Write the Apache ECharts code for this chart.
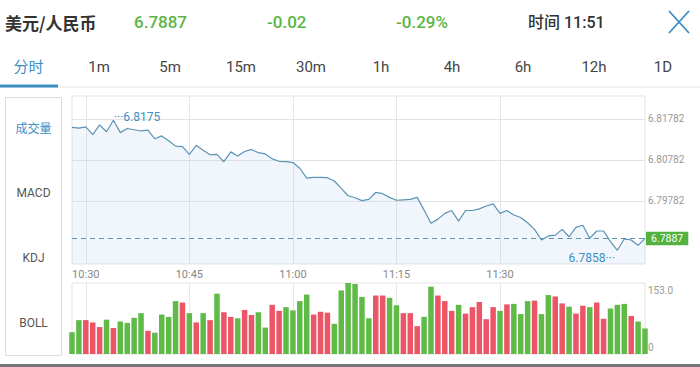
<!DOCTYPE html>
<html><head><meta charset="utf-8">
<script src="https://cdn.jsdelivr.net/npm/echarts@6/dist/echarts.min.js"></script>
<style>html,body{margin:0;padding:0;background:#fff;}#c{width:700px;height:367px;}</style>
</head><body><div id="c"></div><script>
// ---- data ----
const times = ['10:28','10:29','10:30','10:31','10:32','10:33','10:34','10:35','10:36','10:37','10:38','10:39',
  '10:40','10:41','10:42','10:43','10:44','10:45','10:46','10:47','10:48','10:49','10:50','10:51','10:52','10:53',
  '10:54','10:55','10:56','10:57','10:58','10:59','11:00','11:01','11:02','11:03','11:04','11:05','11:06','11:07',
  '11:08','11:09','11:10','11:11','11:12','11:13','11:14','11:15','11:16','11:17','11:18','11:19','11:20','11:21',
  '11:22','11:23','11:24','11:25','11:26','11:27','11:28','11:29','11:30','11:31','11:32','11:33','11:34','11:35',
  '11:36','11:37','11:38','11:39','11:40','11:41','11:42','11:43','11:44','11:45','11:46','11:47','11:48','11:49',
  '11:50','11:51'];
const timeTicks = ['10:30','10:45','11:00','11:15','11:30'];
const prices = [6.8158,6.8156,6.8159,6.8140,6.8164,6.8147,6.8175,6.8145,6.8155,6.8152,
  6.8149,6.8151,6.8130,6.8137,6.8125,6.8112,6.8111,6.8092,6.8114,6.8102,
  6.8091,6.8092,6.8074,6.8098,6.8088,6.8099,6.8104,6.8096,6.8093,6.8081,
  6.8075,6.8074,6.8072,6.8058,6.8034,6.8036,6.8036,6.8035,6.8027,6.8009,
  6.7991,6.7986,6.7979,6.7982,6.7999,6.7996,6.7987,6.7980,6.7981,6.7982,
  6.7987,6.7956,6.7924,6.7934,6.7948,6.7955,6.7929,6.7955,6.7955,6.7959,
  6.7966,6.7971,6.7948,6.7955,6.7944,6.7938,6.7925,6.7909,6.7883,6.7893,
  6.7895,6.7909,6.7891,6.7914,6.7919,6.7887,6.7905,6.7905,6.7879,6.7858,
  6.7886,6.7883,6.7870,6.7887];
const volumes = [47,73,73,68,58,74,56,70,67,78,
  88,50,46,85,80,114,111,88,68,88,
  73,130,90,80,77,95,84,90,57,106,
  93,101,94,114,128,85,91,89,65,137,
  153,151,123,77,126,126,121,105,88,88,
  60,80,145,126,114,93,106,87,101,112,
  75,101,93,107,108,86,114,115,86,127,
  124,109,102,87,104,101,111,76,98,106,
  108,82,70,55];
const volUp = [0,0,1,1,1,0,1,0,0,0,
  0,1,0,0,0,0,1,0,1,0,
  1,0,1,1,0,1,1,0,0,1,
  1,0,0,0,0,1,1,1,0,0,
  0,0,0,0,1,1,0,0,1,1,
  1,0,0,1,1,1,0,1,1,1,
  1,1,0,1,0,0,0,1,0,0,
  1,1,0,1,1,0,1,1,0,0,
  0,1,0,0];
const priceTicks = [6.79782, 6.80782, 6.81782];
const lastPrice = 6.7887;
const priceRange = [6.78245, 6.82343];
const volMax = 153;
const pairName = '美元/人民币';
const headerValues = ['6.7887', '-0.02', '-0.29%'];
const timeText = '时间 11:51';
const tabs = ['分时','1m','5m','15m','30m','1h','4h','6h','12h','1D'];
const sideLabels = ['成交量','MACD','KDJ','BOLL'];

// ---- style ----
const BLUE = '#3d8dc4', LINE = '#5b93b5', GREEN = '#5cb545', RED = '#eb5566', VGREEN = '#5fba47';
const FONT = 'Roboto, "Noto Sans CJK SC", sans-serif';
const isMajor = (i, v) => timeTicks.indexOf(v) >= 0;

const chart = echarts.init(document.getElementById('c'), null, {renderer: 'svg'});

const graphics = [];
graphics.push({type:'text', x:5, y:22, style:{text:pairName, font:'bold 17px "Noto Sans CJK SC", sans-serif', fill:'#333', verticalAlign:'middle'}});
const hx = [134, 267, 396];
headerValues.forEach((t, i) => graphics.push({type:'text', x:hx[i], y:22, style:{text:t, font:'500 17px ' + FONT, fill:GREEN, verticalAlign:'middle'}}));
graphics.push({type:'text', x:528, y:22, style:{text:timeText, font:'500 16px ' + FONT, fill:'#333', verticalAlign:'middle'}});
graphics.push({type:'line', shape:{x1:669, y1:11, x2:689, y2:33}, style:{stroke:BLUE, lineWidth:1.8}});
graphics.push({type:'line', shape:{x1:689, y1:11, x2:669, y2:33}, style:{stroke:BLUE, lineWidth:1.8}});
const tabX = [28.5, 99, 170, 241, 311, 381, 452, 523, 594, 663];
tabs.forEach((t, i) => graphics.push({type:'text', x:tabX[i], y:67, style:{text:t, font:'15px ' + FONT, fill: i === 0 ? BLUE : '#444', align:'center', verticalAlign:'middle'}}));
graphics.push({type:'rect', shape:{x:0, y:86.5, width:700, height:1}, style:{fill:'#e6e6e6'}});
graphics.push({type:'rect', shape:{x:0, y:84.5, width:58, height:3}, style:{fill:BLUE}});
graphics.push({type:'rect', shape:{x:5.5, y:97.5, width:56, height:258}, style:{fill:'none', stroke:'#dddddd', lineWidth:1}});
const sideY = [129, 193, 258, 323];
sideLabels.forEach((t, i) => graphics.push({type:'text', x:33.5, y:sideY[i], style:{text:t, font:'12px ' + FONT, fill: i === 0 ? BLUE : '#555', align:'center', verticalAlign:'middle'}}));
graphics.push({type:'rect', shape:{x:0, y:364, width:700, height:3}, style:{fill:'#777'}});

chart.setOption({
  animation: false,
  textStyle: {fontFamily: FONT},
  graphic: graphics,
  grid: [
    {left:72, right:55, top:96, bottom:103, show:true, borderColor:'#e3e3e3', borderWidth:1, backgroundColor:'transparent'},
    {left:72, right:55, top:283, bottom:13, show:true, borderColor:'#e3e3e3', borderWidth:1, backgroundColor:'transparent'}
  ],
  xAxis: [
    {type:'category', gridIndex:0, data:times, boundaryGap:false,
     axisLine:{show:false}, axisTick:{show:false},
     axisLabel:{interval:isMajor, color:'#888', fontSize:11, margin:5},
     splitLine:{show:true, interval:isMajor, lineStyle:{color:'#e6e6e6'}}},
    {type:'category', gridIndex:1, data:times, boundaryGap:false,
     axisLine:{show:false}, axisTick:{show:false}, axisLabel:{show:false},
     splitLine:{show:true, interval:isMajor, lineStyle:{color:'#e6e6e6'}}}
  ],
  yAxis: [
    {type:'value', gridIndex:0, position:'right', min:priceRange[0], max:priceRange[1],
     axisLine:{show:false},
     axisTick:{show:false, customValues:priceTicks},
     axisLabel:{show:true, customValues:priceTicks, color:'#999', fontSize:10, margin:3, formatter: v => v.toFixed(5)},
     splitLine:{show:true, lineStyle:{color:'#e3e3e3'}}},
    {type:'value', gridIndex:1, position:'right', min:0, max:volMax, interval:volMax,
     axisLine:{show:false}, axisTick:{show:false}, splitLine:{show:false},
     axisLabel:{margin:3, formatter: v => v === 0 ? '{b|0}' : '{t|' + v.toFixed(1) + '}',
       rich:{t:{padding:[14,0,0,0], fontSize:10, color:'#999'}, b:{padding:[0,0,14,0], fontSize:10, color:'#999'}}}}
  ],
  series: [
    {type:'line', xAxisIndex:0, yAxisIndex:0, data:prices, showSymbol:false, symbol:'none',
     lineStyle:{color:LINE, width:1.2}, areaStyle:{color:'rgba(170,205,235,0.26)'},
     markLine:{silent:true, precision:4, symbol:['none','none'],
       data:[{yAxis: lastPrice,
         lineStyle:{color: LINE, type:[5,4], width:1},
         label:{position:'end', formatter: lastPrice.toFixed(4), color:'#fff', fontSize:10.5, backgroundColor:'#52b13f', padding:[2,5,1,5], distance:1}}]},
     markPoint:{silent:true, symbol:'circle', symbolSize:1, itemStyle:{color:'rgba(0,0,0,0)'},
       data:[
         {type:'max', label:{position:'right', distance:0, offset:[0,-3], color:BLUE, fontSize:12, formatter: p => '···' + p.value.toFixed(4)}},
         {type:'min', label:{position:'left', distance:2, offset:[0,8], color:BLUE, fontSize:12, formatter: p => p.value.toFixed(4) + '···'}}
       ]}},
    {type:'bar', xAxisIndex:1, yAxisIndex:1, barWidth:5.5, clip:true,
     data: volumes.map((v, i) => ({value:v, itemStyle:{color: volUp[i] ? RED : VGREEN}}))}
  ]
});
</script></body></html>
